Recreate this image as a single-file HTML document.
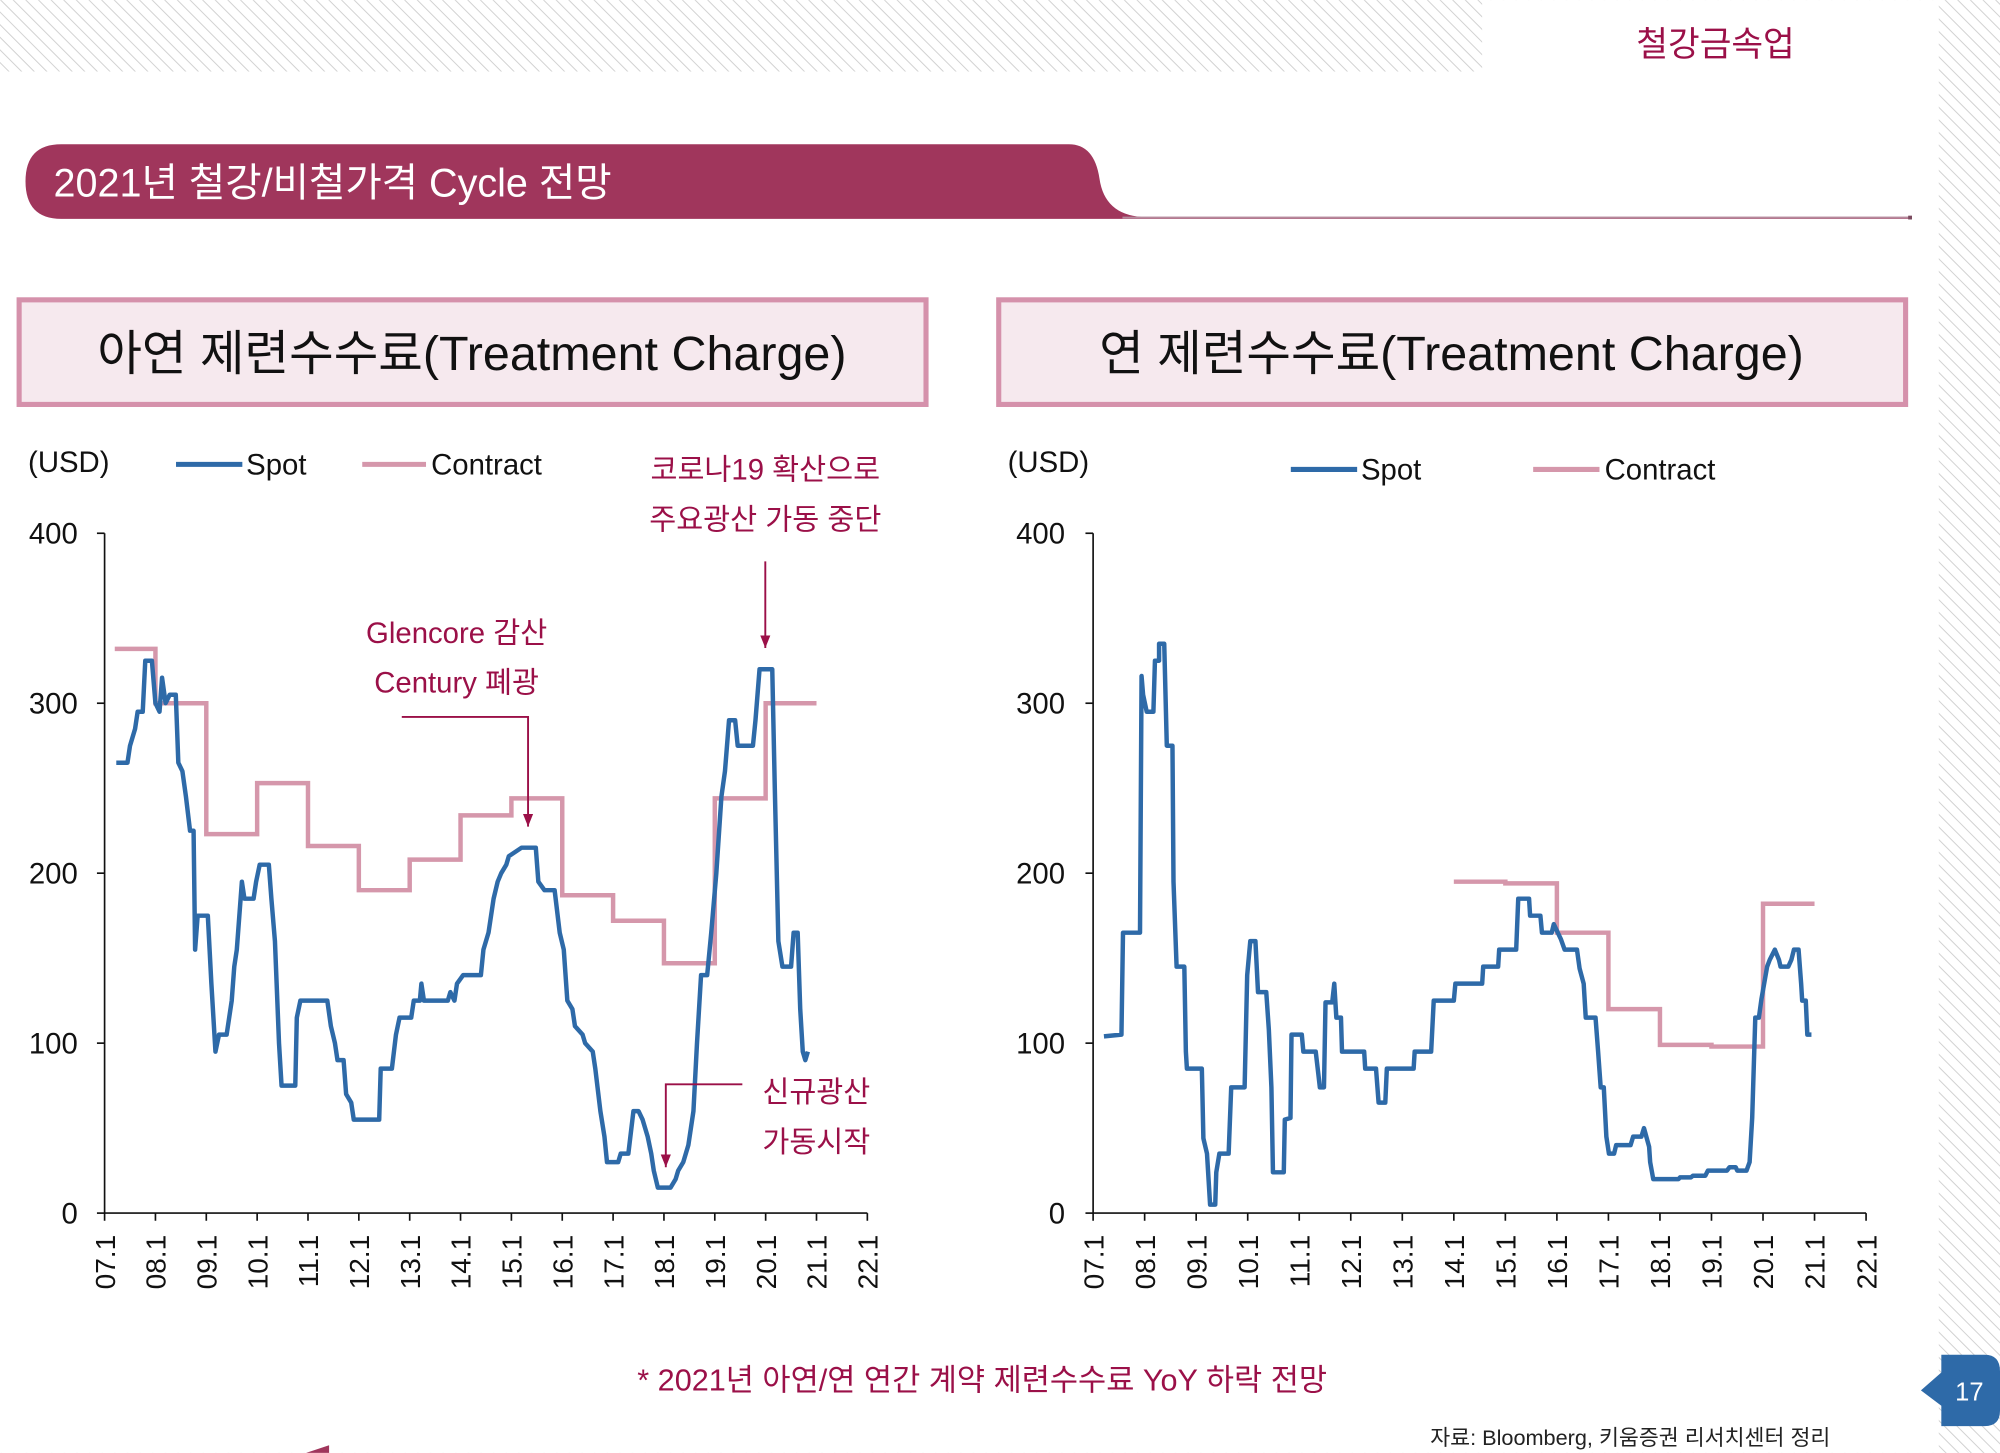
<!DOCTYPE html>
<html><head><meta charset="utf-8"><style>
html,body{margin:0;padding:0;background:#fff}
svg{display:block}
text{font-family:"Liberation Sans","Noto Sans CJK KR",sans-serif}
</style></head><body>
<svg id="root" width="2000" height="1453" viewBox="0 0 1568 1139" xmlns="http://www.w3.org/2000/svg">
<defs>
<pattern id="hatch" width="7" height="7" patternUnits="userSpaceOnUse" patternTransform="rotate(-45)">
<rect width="7" height="7" fill="#fff"/><line x1="0" y1="0" x2="0" y2="7" stroke="#d0d0d0" stroke-width="1.5"/>
</pattern>
<marker id="arr" markerWidth="10" markerHeight="8" refX="10" refY="4" orient="auto" markerUnits="userSpaceOnUse" viewBox="0 0 10 8"><path d="M0,0 L10,4 L0,8 Z" fill="#9b1048"/></marker>
</defs>
<rect x="0" y="0" width="1568" height="1139" fill="url(#hatch)"/>
<rect x="0" y="56" width="1520" height="1083" fill="#fff"/>
<rect x="1162" y="0" width="358" height="60" fill="#fff"/>
<text x="1345" y="44" font-size="27" fill="#9b1048" text-anchor="middle">철강금속업</text>

<path d="M48,113 L838,113 Q858,113 862,140 Q866,168 895,170 L1498,170 L1498,171.5 L48,171.5 Q20,171.5 20,142 Q20,113 48,113 Z" fill="#a0365c"/>
<line x1="880" y1="170.5" x2="1498" y2="170.5" stroke="#b58a9c" stroke-width="1.5"/>
<rect x="1496" y="169" width="3" height="3" fill="#7a4a5e"/>
<text x="42" y="154" font-size="31" fill="#fff">2021년 철강/비철가격 Cycle 전망</text>

<rect x="15" y="235" width="711" height="82" fill="#f6e9ee" stroke="#d591ab" stroke-width="4"/>
<text x="370" y="290" font-size="38" fill="#111" text-anchor="middle">아연 제련수수료(Treatment Charge)</text>
<rect x="783" y="235" width="711" height="82" fill="#f6e9ee" stroke="#d591ab" stroke-width="4"/>
<text x="1138" y="290" font-size="38" fill="#111" text-anchor="middle">연 제련수수료(Treatment Charge)</text>

<g id="left"></g>
<g id="right"></g>

<g>
<text x="22" y="370" font-size="23" fill="#111">(USD)</text>
<line x1="138" y1="364" x2="190" y2="364" stroke="#2e6aa8" stroke-width="4"/>
<text x="193" y="372" font-size="23" fill="#111">Spot</text>
<line x1="284" y1="364" x2="334" y2="364" stroke="#d597ab" stroke-width="4"/>
<text x="338" y="372" font-size="23" fill="#111">Contract</text>
</g>
<g>
<text x="790" y="370" font-size="23" fill="#111">(USD)</text>
<line x1="1012" y1="368" x2="1064" y2="368" stroke="#2e6aa8" stroke-width="4"/>
<text x="1067" y="376" font-size="23" fill="#111">Spot</text>
<line x1="1202" y1="368" x2="1254" y2="368" stroke="#d597ab" stroke-width="4"/>
<text x="1258" y="376" font-size="23" fill="#111">Contract</text>
</g>

<g fill="#9b1048" font-size="23" text-anchor="middle">
<text x="600" y="376">코로나19 확산으로</text>
<text x="600" y="415">주요광산 가동 중단</text>
<line x1="600" y1="440" x2="600" y2="508" stroke="#9b1048" stroke-width="1.5" marker-end="url(#arr)"/>
<text x="358" y="504">Glencore 감산</text>
<text x="358" y="543">Century 폐광</text>
<polyline points="315,562 414,562 414,648" fill="none" stroke="#9b1048" stroke-width="1.5" marker-end="url(#arr)"/>
<text x="640" y="864">신규광산</text>
<text x="640" y="903">가동시작</text>
<polyline points="582,850 522,850 522,915" fill="none" stroke="#9b1048" stroke-width="1.5" marker-end="url(#arr)"/>
</g>

<text x="770" y="1090" font-size="24" fill="#9b1048" text-anchor="middle">* 2021년 아연/연 연간 계약 제련수수료 YoY 하락 전망</text>
<text x="1435" y="1133" font-size="17" fill="#222" text-anchor="end">자료: Bloomberg, 키움증권 리서치센터 정리</text>
<path d="M1522,1062 L1556,1062 Q1568,1062 1568,1075 L1568,1106 Q1568,1118 1556,1118 L1522,1118 L1522,1102 L1506,1090 L1522,1076 Z" fill="#2e6aa8"/>
<text x="1544" y="1098" font-size="20" fill="#fff" text-anchor="middle">17</text>
<path d="M240,1139 L258,1133 L258,1139 Z" fill="#a0365c"/>
</svg>
<script>
const xLabels = ["07.1","08.1","09.1","10.1","11.1","12.1","13.1","14.1","15.1","16.1","17.1","18.1","19.1","20.1","21.1","22.1"];
const yTicks = [0,100,200,300,400];
const zincSpotT = [0.23,0.45,0.5,0.6,0.65,0.75,0.8,0.93,1.0,1.08,1.13,1.2,1.28,1.4,1.45,1.53,1.6,1.68,1.75,1.78,1.83,2.03,2.1,2.18,2.25,2.4,2.5,2.55,2.6,2.7,2.75,2.93,2.98,3.05,3.23,3.28,3.35,3.43,3.48,3.75,3.78,3.85,4.38,4.45,4.53,4.58,4.7,4.75,4.85,4.9,5.4,5.43,5.65,5.73,5.8,6.03,6.08,6.2,6.23,6.28,6.75,6.8,6.88,6.93,7.05,7.4,7.45,7.55,7.65,7.73,7.8,7.9,7.95,8.2,8.48,8.53,8.65,8.85,8.95,9.03,9.1,9.2,9.25,9.4,9.45,9.6,9.65,9.75,9.83,9.88,10.1,10.15,10.3,10.4,10.5,10.58,10.68,10.75,10.8,10.88,11.13,11.23,11.28,11.38,11.48,11.58,11.65,11.73,11.85,11.93,12.03,12.13,12.2,12.28,12.4,12.45,12.75,12.8,12.88,13.13,13.18,13.25,13.33,13.5,13.55,13.63,13.68,13.73,13.78,13.83];
const zincSpotV = [265,265,275,285,295,295,325,325,300,295,315,300,305,305,265,260,245,225,225,155,175,175,135,95,105,105,125,145,155,195,185,185,195,205,205,185,160,100,75,75,115,125,125,110,100,90,90,70,65,55,55,85,85,105,115,115,125,125,135,125,125,130,125,135,140,140,155,165,185,195,200,205,210,215,215,195,190,190,165,155,125,120,110,105,100,95,85,60,45,30,30,35,35,60,60,55,45,35,25,15,15,20,25,30,40,60,100,140,140,165,200,245,260,290,290,275,275,290,320,320,250,160,145,145,165,165,120,95,90,95];
const zincContractT = [0.2,1,2,3,4,5,6,7,8,9,10,11,12,13,14];
const zincContractV = [332,300,223,253,216,190,208,234,244,187,172,147,244,300];
const leadSpotT = [0.21,0.55,0.58,0.91,0.94,0.97,1.04,1.17,1.2,1.28,1.28,1.38,1.43,1.54,1.56,1.62,1.77,1.8,1.82,2.11,2.14,2.21,2.27,2.37,2.39,2.45,2.63,2.68,2.94,2.99,3.05,3.15,3.2,3.36,3.41,3.46,3.49,3.7,3.72,3.83,3.85,4.05,4.08,4.32,4.37,4.4,4.48,4.51,4.64,4.68,4.72,4.81,4.83,5.26,5.28,5.49,5.54,5.67,5.7,6.22,6.24,6.56,6.61,7.0,7.03,7.55,7.57,7.86,7.88,8.21,8.25,8.46,8.48,8.68,8.71,8.9,8.94,9.08,9.15,9.39,9.44,9.52,9.56,9.75,9.8,9.85,9.91,9.96,10.01,10.11,10.15,10.43,10.48,10.64,10.69,10.79,10.81,10.87,11.36,11.39,11.6,11.64,11.88,11.93,12.3,12.35,12.47,12.5,12.68,12.74,12.79,12.85,12.92,12.97,13.08,13.13,13.23,13.31,13.34,13.49,13.55,13.6,13.69,13.74,13.76,13.83,13.86,13.94];
const leadSpotV = [104,105,165,165,316,305,295,295,325,325,335,335,275,275,195,145,145,95,85,85,44,35,5,5,24,35,35,74,74,140,160,160,130,130,108,74,24,24,55,56,105,105,95,95,82,74,74,124,124,135,115,115,95,95,85,85,65,65,85,85,95,95,125,125,135,135,145,145,155,155,185,185,175,175,165,165,170,161,155,155,144,135,115,115,95,74,74,45,35,35,40,40,45,45,50,39,30,20,20,21,21,22,22,25,25,27,27,25,25,30,56,115,115,126,145,149,155,149,145,145,149,155,155,135,125,125,105,105];
const leadContractT = [7,8,9,10,11,12,13,14];
const leadContractV = [195,194,165,120,99,98,182];

const NS = "http://www.w3.org/2000/svg";
function mk(tag, attrs, parent){const e=document.createElementNS(NS,tag);for(const k in attrs)e.setAttribute(k,attrs[k]);parent.appendChild(e);return e;}

function drawChart(g, x0, x1, spotT, spotV, conT, conV, labelX, prefix){
  const y0=951, y400=418;
  const xs=t=>x0+(x1-x0)*t/15;
  const ys=v=>y0-(y0-y400)*v/400;
  const axis=mk('path',{d:`M${x0},${y400} L${x0},${y0} L${x1},${y0}`,fill:'none',stroke:'#111','stroke-width':1.3},g);
  
  
  yTicks.forEach(v=>{
    mk('line',{x1:x0-6,y1:ys(v),x2:x0,y2:ys(v),stroke:'#111','stroke-width':1.3},g);
    const t=mk('text',{x:labelX,y:ys(v)+8,'font-size':23,fill:'#111','text-anchor':'end'},g);
    t.textContent=v;
    
    
  });
  xLabels.forEach((l,i)=>{
    const x=xs(i);
    mk('line',{x1:x,y1:y0,x2:x,y2:y0+6,stroke:'#111','stroke-width':1.3},g);
    const t=mk('text',{x:0,y:0,'font-size':22,fill:'#111','text-anchor':'end',transform:`translate(${x+8},${968}) rotate(-90)`},g);
    t.textContent=l;
    
    
  });
  let d='';
  for(let i=0;i<conV.length;i++){
    d+=(i===0?'M':'L')+xs(conT[i])+','+ys(conV[i])+' L'+xs(conT[i+1])+','+ys(conV[i]);
  }
  const c=mk('path',{d:d,fill:'none',stroke:'#d597ab','stroke-width':3.5},g);
  
  
  const pts=spotT.map((t,i)=>xs(t)+','+ys(spotV[i])).join(' ');
  const s=mk('polyline',{points:pts,fill:'none',stroke:'#2e6aa8','stroke-width':3.5,'stroke-linejoin':'round'},g);
  
  
}
drawChart(document.getElementById('left'),82,680,zincSpotT,zincSpotV,zincContractT,zincContractV,61,'zinc');
drawChart(document.getElementById('right'),857,1463,leadSpotT,leadSpotV,leadContractT,leadContractV,835,'lead');
</script>
</body></html>
